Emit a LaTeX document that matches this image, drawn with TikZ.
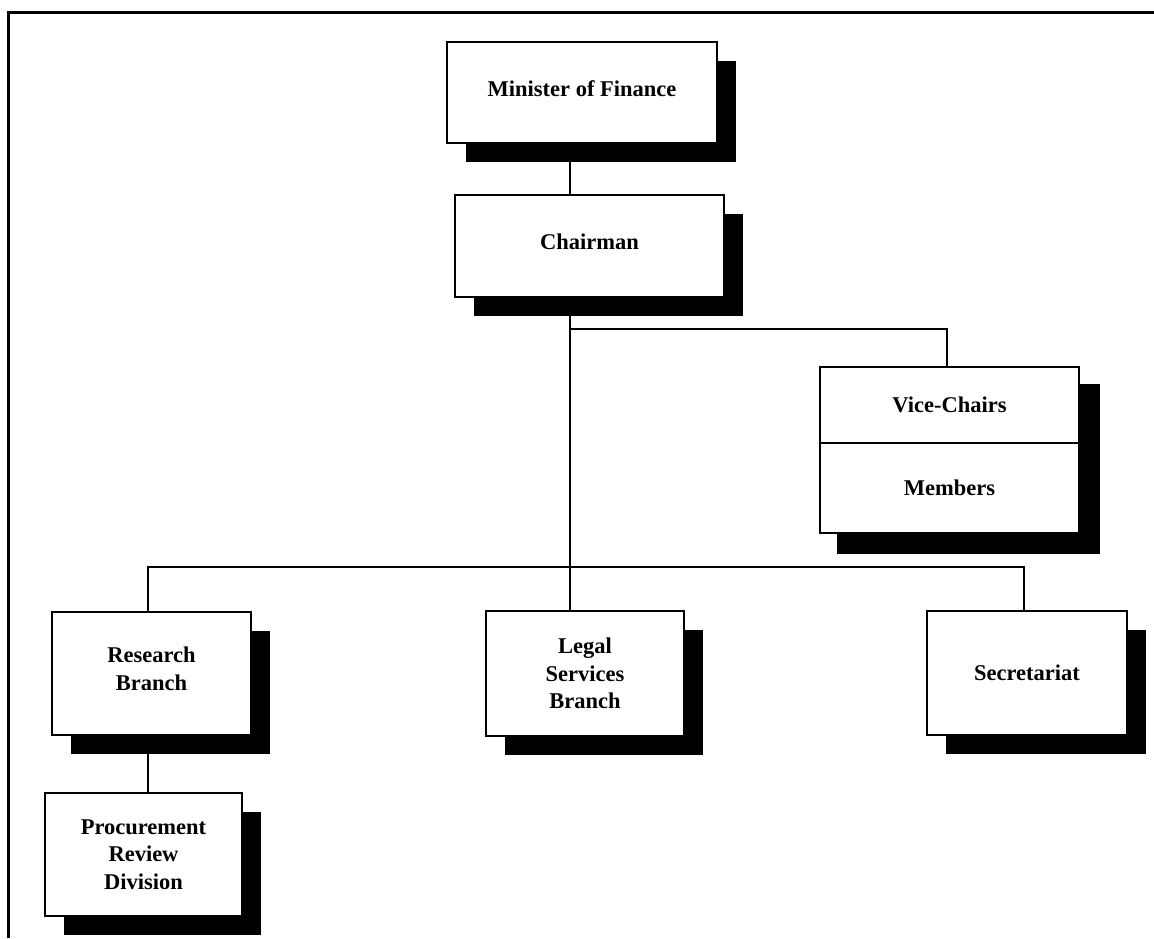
\documentclass[tikz,border=0pt]{standalone}
\usepackage{fontspec}
\setmainfont{Liberation Serif}
\usetikzlibrary{shadows,backgrounds}
\begin{document}
\begin{tikzpicture}[x=1pt,y=-1pt,
  box/.style={draw=black, fill=white, line width=2pt, inner sep=0pt, align=center,
    font=\fontsize{22.5pt}{27.5pt}\selectfont\bfseries},
  shbox/.style={box, general shadow={fill=black, shadow xshift=19pt, shadow yshift=-19pt}},
  conn/.style={draw=black, line width=2pt},
  frame/.style={draw=black, line width=3pt}]
\useasboundingbox (0,0) rectangle (1154,938);
\draw[frame] (8,938) -- (8,12) -- (1154,12);
% coordinates for connector columns and buses
\coordinate (tx) at (570,0);
\coordinate (lx) at (148,0);
\coordinate (rx) at (1024,0);
\coordinate (vx) at (947,0);
\coordinate (bus1) at (570,329);
\coordinate (bus2) at (570,567);
% boxes
\node[shbox, minimum width=270pt, minimum height=101pt, text depth=8pt] (min) at (582,92.5) {Minister of Finance};
\node[shbox, minimum width=269pt, minimum height=102pt, text depth=8pt] (chair) at (589.5,246) {Chairman};
\node[box, minimum width=259pt, minimum height=76pt] (vice) at (949.5,405) {Vice-Chairs};
\node[box, minimum width=259pt, minimum height=90pt] (mem) at (949.5,488) {Members};
\node[shbox, minimum width=199pt, minimum height=123pt, text depth=10pt] (research) at (151.5,673.5) {Research\\Branch};
\node[shbox, minimum width=198pt, minimum height=125pt] (legal) at (585,673.5) {Legal\\Services\\Branch};
\node[shbox, minimum width=200pt, minimum height=124pt] (secr) at (1027,673) {Secretariat};
\node[shbox, minimum width=197pt, minimum height=123pt] (proc) at (143.5,854.5) {Procurement\\Review\\Division};
% shadow of the combined Vice-Chairs / Members box
\begin{scope}[on background layer]
  \fill[black] ([xshift=18pt,yshift=-18pt]vice.north west) rectangle ([xshift=20pt,yshift=-20pt]mem.south east);
  % connectors
  \draw[conn] (min.south -| tx) -- (chair.north -| tx);
  \draw[conn] (chair.south -| tx) -- (bus2) -- (legal.north -| tx);
  \draw[conn] (bus1) -| (vice.north -| vx);
  \draw[conn] (research.north -| lx) |- (bus2) -| (secr.north -| rx);
  \draw[conn] (research.south -| lx) -- (proc.north -| lx);
\end{scope}
\end{tikzpicture}
\end{document}
